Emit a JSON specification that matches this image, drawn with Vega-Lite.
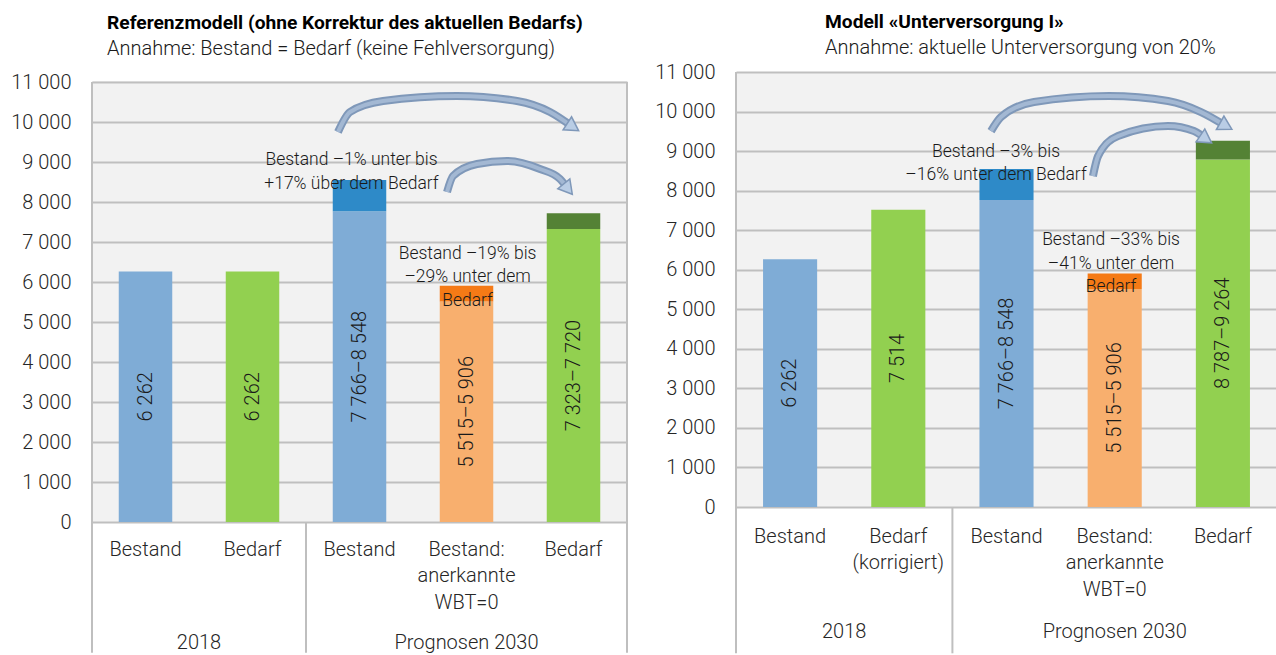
{
  "$schema": "https://vega.github.io/schema/vega-lite/v6.json",
  "padding": {"left": 10, "top": 12, "right": 0, "bottom": 0},
  "spacing": 26,
  "config": {
    "font": "Roboto",
    "view": {"fill": "#F2F2F2", "stroke": null},
    "title": {"anchor": "start", "frame": "group", "fontSize": 19.2, "fontWeight": "bold", "color": "#000000", "subtitleFontSize": 20, "subtitleFontWeight": 300, "subtitleColor": "#1a1a1a", "subtitlePadding": 6},
    "axis": {"labelFont": "Roboto", "labelFontSize": 20, "labelFontWeight": 300, "labelColor": "#262626", "ticks": false, "domain": false, "gridColor": "#BFBFBF", "gridWidth": 2},
    "axisY": {"grid": true, "labelOverlap": false}
  },
  "datasets": {
    "links_balken": [
      {"kat": "1|Bestand", "teil": "basis", "von": 0, "bis": 6262, "farbe": "Bestand", "text": "6 262"},
      {"kat": "2|Bedarf", "teil": "basis", "von": 0, "bis": 6262, "farbe": "Bedarf", "text": "6 262"},
      {"kat": "3|Bestand", "teil": "basis", "von": 0, "bis": 7766, "farbe": "Bestand", "text": "7 766–8 548"},
      {"kat": "3|Bestand", "teil": "spanne", "von": 7766, "bis": 8548, "farbe": "Bestand (Spanne)", "text": ""},
      {"kat": "4|Bestand:\nanerkannte\nWBT=0", "teil": "basis", "von": 0, "bis": 5515, "farbe": "WBT=0", "text": "5 515–5 906"},
      {"kat": "4|Bestand:\nanerkannte\nWBT=0", "teil": "spanne", "von": 5515, "bis": 5906, "farbe": "WBT=0 (Spanne)", "text": ""},
      {"kat": "5|Bedarf", "teil": "basis", "von": 0, "bis": 7323, "farbe": "Bedarf", "text": "7 323–7 720"},
      {"kat": "5|Bedarf", "teil": "spanne", "von": 7323, "bis": 7720, "farbe": "Bedarf (Spanne)", "text": ""}
    ],
    "rechts_balken": [
      {"kat": "1|Bestand", "teil": "basis", "von": 0, "bis": 6262, "farbe": "Bestand", "text": "6 262"},
      {"kat": "2|Bedarf\n(korrigiert)", "teil": "basis", "von": 0, "bis": 7514, "farbe": "Bedarf", "text": "7 514"},
      {"kat": "3|Bestand", "teil": "basis", "von": 0, "bis": 7766, "farbe": "Bestand", "text": "7 766–8 548"},
      {"kat": "3|Bestand", "teil": "spanne", "von": 7766, "bis": 8548, "farbe": "Bestand (Spanne)", "text": ""},
      {"kat": "4|Bestand:\nanerkannte\nWBT=0", "teil": "basis", "von": 0, "bis": 5515, "farbe": "WBT=0", "text": "5 515–5 906"},
      {"kat": "4|Bestand:\nanerkannte\nWBT=0", "teil": "spanne", "von": 5515, "bis": 5906, "farbe": "WBT=0 (Spanne)", "text": ""},
      {"kat": "5|Bedarf", "teil": "basis", "von": 0, "bis": 8787, "farbe": "Bedarf", "text": "8 787–9 264"},
      {"kat": "5|Bedarf", "teil": "spanne", "von": 8787, "bis": 9264, "farbe": "Bedarf (Spanne)", "text": ""}
    ],
    "links_notizen": [
      {"x": 2.425, "y": 9050, "text": "Bestand –1% unter bis\n+17% über dem Bedarf"},
      {"x": 3.51, "y": 6712, "text": "Bestand –19% bis\n–29% unter dem\nBedarf"}
    ],
    "rechts_notizen": [
      {"x": 2.403, "y": 8987, "text": "Bestand –3% bis\n–16% unter dem Bedarf"},
      {"x": 3.466, "y": 6747, "text": "Bestand –33% bis\n–41% unter dem\nBedarf"}
    ],
    "links_pfeile": [
      {"pfeil": "1", "x": 2.299, "y": 9750},
      {"pfeil": "1", "x": 2.411, "y": 10250},
      {"pfeil": "1", "x": 2.72, "y": 10525},
      {"pfeil": "1", "x": 3.411, "y": 10650},
      {"pfeil": "1", "x": 3.972, "y": 10525},
      {"pfeil": "1", "x": 4.28, "y": 10250},
      {"pfeil": "1", "x": 4.495, "y": 9875},
      {"pfeil": "2", "x": 3.318, "y": 8250},
      {"pfeil": "2", "x": 3.374, "y": 8650},
      {"pfeil": "2", "x": 3.598, "y": 8950},
      {"pfeil": "2", "x": 3.879, "y": 9025},
      {"pfeil": "2", "x": 4.187, "y": 8825},
      {"pfeil": "2", "x": 4.374, "y": 8575},
      {"pfeil": "2", "x": 4.449, "y": 8325}
    ],
    "rechts_pfeile": [
      {"pfeil": "1", "x": 2.357, "y": 9506},
      {"pfeil": "1", "x": 2.449, "y": 9861},
      {"pfeil": "1", "x": 2.754, "y": 10241},
      {"pfeil": "1", "x": 3.447, "y": 10392},
      {"pfeil": "1", "x": 3.993, "y": 10266},
      {"pfeil": "1", "x": 4.298, "y": 9987},
      {"pfeil": "1", "x": 4.529, "y": 9633},
      {"pfeil": "2", "x": 3.299, "y": 8367},
      {"pfeil": "2", "x": 3.346, "y": 8873},
      {"pfeil": "2", "x": 3.53, "y": 9380},
      {"pfeil": "2", "x": 3.993, "y": 9633},
      {"pfeil": "2", "x": 4.233, "y": 9506},
      {"pfeil": "2", "x": 4.344, "y": 9304}
    ],
    "links_spitzen": [
      {"pfeil": "1", "x": 4.495, "y": 9875},
      {"pfeil": "2", "x": 4.449, "y": 8325}
    ],
    "rechts_spitzen": [
      {"pfeil": "1", "x": 4.529, "y": 9633},
      {"pfeil": "2", "x": 4.344, "y": 9304}
    ],
    "links_maske": [
      {"x": 0, "x2": 5, "y": 11025, "y2": 11250}
    ],
    "links_linien": [
      {"x": 0, "y1": 11000, "y2": -3270},
      {"x": 2, "y1": 0, "y2": -3270},
      {"x": 5, "y1": 11000, "y2": -3270}
    ],
    "rechts_linien": [
      {"x": 0, "y1": 11000, "y2": -3700},
      {"x": 2, "y1": 0, "y2": -3700}
    ],
    "links_gruppen": [
      {"x": 1, "y": -3025, "text": "2018"},
      {"x": 3.5, "y": -3025, "text": "Prognosen 2030"}
    ],
    "rechts_gruppen": [
      {"x": 1, "y": -3152, "text": "2018"},
      {"x": 3.5, "y": -3152, "text": "Prognosen 2030"}
    ]
  },
  "hconcat": [
    {
      "width": 535,
      "height": 450,
      "title": {"text": "Referenzmodell (ohne Korrektur des aktuellen Bedarfs)", "subtitle": "Annahme: Bestand = Bedarf (keine Fehlversorgung)", "dx": 15, "offset": 13},
      "resolve": {"scale": {"x": "independent"}},
      "layer": [
        {
          "layer": [
            {
              "data": {"name": "links_balken"},
              "mark": {"type": "bar"},
              "encoding": {
                "x": {"field": "kat", "type": "nominal", "title": null, "scale": {"paddingInner": 0.5, "paddingOuter": 0.25},
                      "axis": {"labelExpr": "split(split(datum.label, '|')[1], '\\n')", "labelAngle": 0, "labelPadding": 17, "labelLineHeight": 26.5, "labelBaseline": "top", "labelOverlap": false, "grid": false}},
                "y": {"field": "von", "type": "quantitative", "title": null, "scale": {"domain": [0, 11250], "nice": false},
                      "axis": {"values": [0, 1000, 2000, 3000, 4000, 5000, 6000, 7000, 8000, 9000, 10000, 11000], "labelExpr": "replace(format(datum.value, ','), ',', ' ')", "labelPadding": 21, "labelOverlap": false, "grid": true}},
                "y2": {"field": "bis"},
                "color": {"field": "farbe", "type": "nominal", "legend": null,
                          "scale": {"domain": ["Bestand", "Bestand (Spanne)", "Bedarf", "Bedarf (Spanne)", "WBT=0", "WBT=0 (Spanne)"], "range": ["#7FACD6", "#2E8AC8", "#92D050", "#548235", "#F8AF6E", "#F57A16"]}}
              }
            },
            {
              "data": {"name": "links_balken"},
              "transform": [{"filter": "datum.teil == 'basis'"}, {"calculate": "datum.bis / 2", "as": "mitte"}],
              "mark": {"type": "text", "angle": 270, "fontSize": 20, "fontWeight": 300, "color": "#1a1a1a", "align": "center", "baseline": "middle"},
              "encoding": {
                "x": {"field": "kat", "type": "nominal", "title": null,
                      "axis": {"labelExpr": "split(split(datum.label, '|')[1], '\\n')", "labelAngle": 0, "labelPadding": 17, "labelLineHeight": 26.5, "labelBaseline": "top", "labelOverlap": false, "grid": false}},
                "y": {"field": "mitte", "type": "quantitative", "title": null, "scale": {"domain": [0, 11250], "nice": false},
                      "axis": {"values": [0, 1000, 2000, 3000, 4000, 5000, 6000, 7000, 8000, 9000, 10000, 11000], "labelExpr": "replace(format(datum.value, ','), ',', ' ')", "labelPadding": 21, "labelOverlap": false, "grid": true}},
                "text": {"field": "text"}
              }
            }
          ]
        },
        {
          "layer": [
            {
              "data": {"name": "links_maske"},
              "mark": {"type": "rect", "color": "#FFFFFF"},
              "encoding": {
                "x": {"field": "x", "type": "quantitative", "scale": {"domain": [0, 5], "nice": false, "zero": false}, "axis": null},
                "x2": {"field": "x2"},
                "y": {"field": "y", "type": "quantitative", "title": null, "scale": {"domain": [0, 11250], "nice": false},
                      "axis": {"values": [0, 1000, 2000, 3000, 4000, 5000, 6000, 7000, 8000, 9000, 10000, 11000], "labelExpr": "replace(format(datum.value, ','), ',', ' ')", "labelPadding": 21, "labelOverlap": false, "grid": true}},
                "y2": {"field": "y2"}
              }
            },
            {
              "data": {"name": "links_notizen"},
              "mark": {"type": "text", "fontSize": 17.5, "fontWeight": 300, "color": "#1a1a1a", "align": "center", "baseline": "middle", "lineBreak": "\n", "lineHeight": 23.5},
              "encoding": {
                "x": {"field": "x", "type": "quantitative", "scale": {"domain": [0, 5], "nice": false, "zero": false}, "axis": null},
                "y": {"field": "y", "type": "quantitative", "title": null, "scale": {"domain": [0, 11250], "nice": false},
                      "axis": {"values": [0, 1000, 2000, 3000, 4000, 5000, 6000, 7000, 8000, 9000, 10000, 11000], "labelExpr": "replace(format(datum.value, ','), ',', ' ')", "labelPadding": 21, "labelOverlap": false, "grid": true}},
                "text": {"field": "text"}
              }
            },
            {
              "data": {"name": "links_pfeile"},
              "mark": {"type": "line", "interpolate": "monotone", "strokeWidth": 8, "color": "#7F98B9", "strokeCap": "butt"},
              "encoding": {
                "x": {"field": "x", "type": "quantitative", "scale": {"domain": [0, 5], "nice": false, "zero": false}, "axis": null},
                "y": {"field": "y", "type": "quantitative", "title": null, "scale": {"domain": [0, 11250], "nice": false},
                      "axis": {"values": [0, 1000, 2000, 3000, 4000, 5000, 6000, 7000, 8000, 9000, 10000, 11000], "labelExpr": "replace(format(datum.value, ','), ',', ' ')", "labelPadding": 21, "labelOverlap": false, "grid": true}},
                "detail": {"field": "pfeil"}
              }
            },
            {
              "data": {"name": "links_pfeile"},
              "mark": {"type": "line", "interpolate": "monotone", "strokeWidth": 4, "color": "#A3B8D3", "strokeCap": "butt"},
              "encoding": {
                "x": {"field": "x", "type": "quantitative", "scale": {"domain": [0, 5], "nice": false, "zero": false}, "axis": null},
                "y": {"field": "y", "type": "quantitative", "title": null, "scale": {"domain": [0, 11250], "nice": false},
                      "axis": {"values": [0, 1000, 2000, 3000, 4000, 5000, 6000, 7000, 8000, 9000, 10000, 11000], "labelExpr": "replace(format(datum.value, ','), ',', ' ')", "labelPadding": 21, "labelOverlap": false, "grid": true}},
                "detail": {"field": "pfeil"}
              }
            },
            {
              "data": {"name": "links_spitzen"},
              "transform": [{"filter": "datum.pfeil == '1'"}],
              "mark": {"type": "point", "shape": "triangle-up", "angle": 123, "size": 240, "filled": true, "fill": "#B9CDE5", "stroke": "#7F98B9", "strokeWidth": 1.5, "opacity": 1},
              "encoding": {
                "x": {"field": "x", "type": "quantitative", "scale": {"domain": [0, 5], "nice": false, "zero": false}, "axis": null},
                "y": {"field": "y", "type": "quantitative", "title": null, "scale": {"domain": [0, 11250], "nice": false},
                      "axis": {"values": [0, 1000, 2000, 3000, 4000, 5000, 6000, 7000, 8000, 9000, 10000, 11000], "labelExpr": "replace(format(datum.value, ','), ',', ' ')", "labelPadding": 21, "labelOverlap": false, "grid": true}}
              }
            },
            {
              "data": {"name": "links_spitzen"},
              "transform": [{"filter": "datum.pfeil == '2'"}],
              "mark": {"type": "point", "shape": "triangle-up", "angle": 141, "size": 240, "filled": true, "fill": "#B9CDE5", "stroke": "#7F98B9", "strokeWidth": 1.5, "opacity": 1},
              "encoding": {
                "x": {"field": "x", "type": "quantitative", "scale": {"domain": [0, 5], "nice": false, "zero": false}, "axis": null},
                "y": {"field": "y", "type": "quantitative", "title": null, "scale": {"domain": [0, 11250], "nice": false},
                      "axis": {"values": [0, 1000, 2000, 3000, 4000, 5000, 6000, 7000, 8000, 9000, 10000, 11000], "labelExpr": "replace(format(datum.value, ','), ',', ' ')", "labelPadding": 21, "labelOverlap": false, "grid": true}}
              }
            },
            {
              "data": {"name": "links_linien"},
              "mark": {"type": "rule", "color": "#BFBFBF", "strokeWidth": 2},
              "encoding": {
                "x": {"field": "x", "type": "quantitative", "scale": {"domain": [0, 5], "nice": false, "zero": false}, "axis": null},
                "y": {"field": "y1", "type": "quantitative", "title": null, "scale": {"domain": [0, 11250], "nice": false},
                      "axis": {"values": [0, 1000, 2000, 3000, 4000, 5000, 6000, 7000, 8000, 9000, 10000, 11000], "labelExpr": "replace(format(datum.value, ','), ',', ' ')", "labelPadding": 21, "labelOverlap": false, "grid": true}},
                "y2": {"field": "y2"}
              }
            },
            {
              "data": {"name": "links_gruppen"},
              "mark": {"type": "text", "fontSize": 20, "fontWeight": 300, "color": "#262626", "align": "center", "baseline": "middle"},
              "encoding": {
                "x": {"field": "x", "type": "quantitative", "scale": {"domain": [0, 5], "nice": false, "zero": false}, "axis": null},
                "y": {"field": "y", "type": "quantitative", "title": null, "scale": {"domain": [0, 11250], "nice": false},
                      "axis": {"values": [0, 1000, 2000, 3000, 4000, 5000, 6000, 7000, 8000, 9000, 10000, 11000], "labelExpr": "replace(format(datum.value, ','), ',', ' ')", "labelPadding": 21, "labelOverlap": false, "grid": true}},
                "text": {"field": "text"}
              }
            }
          ]
        }
      ]
    },
    {
      "width": 541,
      "height": 435,
      "title": {"text": "Modell «Unterversorgung I»", "subtitle": "Annahme: aktuelle Unterversorgung von 20%", "dx": 89, "offset": 4},
      "resolve": {"scale": {"x": "independent"}},
      "layer": [
        {
          "layer": [
            {
              "data": {"name": "rechts_balken"},
              "mark": {"type": "bar"},
              "encoding": {
                "x": {"field": "kat", "type": "nominal", "title": null, "scale": {"paddingInner": 0.5, "paddingOuter": 0.25},
                      "axis": {"labelExpr": "split(split(datum.label, '|')[1], '\\n')", "labelAngle": 0, "labelPadding": 19, "labelLineHeight": 26.5, "labelBaseline": "top", "labelOverlap": false, "grid": false}},
                "y": {"field": "von", "type": "quantitative", "title": null, "scale": {"domain": [0, 11000], "nice": false},
                      "axis": {"values": [0, 1000, 2000, 3000, 4000, 5000, 6000, 7000, 8000, 9000, 10000, 11000], "labelExpr": "replace(format(datum.value, ','), ',', ' ')", "labelPadding": 21, "labelOverlap": false, "grid": true}},
                "y2": {"field": "bis"},
                "color": {"field": "farbe", "type": "nominal", "legend": null,
                          "scale": {"domain": ["Bestand", "Bestand (Spanne)", "Bedarf", "Bedarf (Spanne)", "WBT=0", "WBT=0 (Spanne)"], "range": ["#7FACD6", "#2E8AC8", "#92D050", "#548235", "#F8AF6E", "#F57A16"]}}
              }
            },
            {
              "data": {"name": "rechts_balken"},
              "transform": [{"filter": "datum.teil == 'basis'"}, {"calculate": "datum.bis / 2", "as": "mitte"}],
              "mark": {"type": "text", "angle": 270, "fontSize": 20, "fontWeight": 300, "color": "#1a1a1a", "align": "center", "baseline": "middle"},
              "encoding": {
                "x": {"field": "kat", "type": "nominal", "title": null,
                      "axis": {"labelExpr": "split(split(datum.label, '|')[1], '\\n')", "labelAngle": 0, "labelPadding": 19, "labelLineHeight": 26.5, "labelBaseline": "top", "labelOverlap": false, "grid": false}},
                "y": {"field": "mitte", "type": "quantitative", "title": null, "scale": {"domain": [0, 11000], "nice": false},
                      "axis": {"values": [0, 1000, 2000, 3000, 4000, 5000, 6000, 7000, 8000, 9000, 10000, 11000], "labelExpr": "replace(format(datum.value, ','), ',', ' ')", "labelPadding": 21, "labelOverlap": false, "grid": true}},
                "text": {"field": "text"}
              }
            }
          ]
        },
        {
          "layer": [
            {
              "data": {"name": "rechts_notizen"},
              "mark": {"type": "text", "fontSize": 17.5, "fontWeight": 300, "color": "#1a1a1a", "align": "center", "baseline": "middle", "lineBreak": "\n", "lineHeight": 23.5},
              "encoding": {
                "x": {"field": "x", "type": "quantitative", "scale": {"domain": [0, 5], "nice": false, "zero": false}, "axis": null},
                "y": {"field": "y", "type": "quantitative", "title": null, "scale": {"domain": [0, 11000], "nice": false},
                      "axis": {"values": [0, 1000, 2000, 3000, 4000, 5000, 6000, 7000, 8000, 9000, 10000, 11000], "labelExpr": "replace(format(datum.value, ','), ',', ' ')", "labelPadding": 21, "labelOverlap": false, "grid": true}},
                "text": {"field": "text"}
              }
            },
            {
              "data": {"name": "rechts_pfeile"},
              "mark": {"type": "line", "interpolate": "monotone", "strokeWidth": 8, "color": "#7F98B9", "strokeCap": "butt"},
              "encoding": {
                "x": {"field": "x", "type": "quantitative", "scale": {"domain": [0, 5], "nice": false, "zero": false}, "axis": null},
                "y": {"field": "y", "type": "quantitative", "title": null, "scale": {"domain": [0, 11000], "nice": false},
                      "axis": {"values": [0, 1000, 2000, 3000, 4000, 5000, 6000, 7000, 8000, 9000, 10000, 11000], "labelExpr": "replace(format(datum.value, ','), ',', ' ')", "labelPadding": 21, "labelOverlap": false, "grid": true}},
                "detail": {"field": "pfeil"}
              }
            },
            {
              "data": {"name": "rechts_pfeile"},
              "mark": {"type": "line", "interpolate": "monotone", "strokeWidth": 4, "color": "#A3B8D3", "strokeCap": "butt"},
              "encoding": {
                "x": {"field": "x", "type": "quantitative", "scale": {"domain": [0, 5], "nice": false, "zero": false}, "axis": null},
                "y": {"field": "y", "type": "quantitative", "title": null, "scale": {"domain": [0, 11000], "nice": false},
                      "axis": {"values": [0, 1000, 2000, 3000, 4000, 5000, 6000, 7000, 8000, 9000, 10000, 11000], "labelExpr": "replace(format(datum.value, ','), ',', ' ')", "labelPadding": 21, "labelOverlap": false, "grid": true}},
                "detail": {"field": "pfeil"}
              }
            },
            {
              "data": {"name": "rechts_spitzen"},
              "transform": [{"filter": "datum.pfeil == '1'"}],
              "mark": {"type": "point", "shape": "triangle-up", "angle": 119, "size": 240, "filled": true, "fill": "#B9CDE5", "stroke": "#7F98B9", "strokeWidth": 1.5, "opacity": 1},
              "encoding": {
                "x": {"field": "x", "type": "quantitative", "scale": {"domain": [0, 5], "nice": false, "zero": false}, "axis": null},
                "y": {"field": "y", "type": "quantitative", "title": null, "scale": {"domain": [0, 11000], "nice": false},
                      "axis": {"values": [0, 1000, 2000, 3000, 4000, 5000, 6000, 7000, 8000, 9000, 10000, 11000], "labelExpr": "replace(format(datum.value, ','), ',', ' ')", "labelPadding": 21, "labelOverlap": false, "grid": true}}
              }
            },
            {
              "data": {"name": "rechts_spitzen"},
              "transform": [{"filter": "datum.pfeil == '2'"}],
              "mark": {"type": "point", "shape": "triangle-up", "angle": 124, "size": 240, "filled": true, "fill": "#B9CDE5", "stroke": "#7F98B9", "strokeWidth": 1.5, "opacity": 1},
              "encoding": {
                "x": {"field": "x", "type": "quantitative", "scale": {"domain": [0, 5], "nice": false, "zero": false}, "axis": null},
                "y": {"field": "y", "type": "quantitative", "title": null, "scale": {"domain": [0, 11000], "nice": false},
                      "axis": {"values": [0, 1000, 2000, 3000, 4000, 5000, 6000, 7000, 8000, 9000, 10000, 11000], "labelExpr": "replace(format(datum.value, ','), ',', ' ')", "labelPadding": 21, "labelOverlap": false, "grid": true}}
              }
            },
            {
              "data": {"name": "rechts_linien"},
              "mark": {"type": "rule", "color": "#BFBFBF", "strokeWidth": 2},
              "encoding": {
                "x": {"field": "x", "type": "quantitative", "scale": {"domain": [0, 5], "nice": false, "zero": false}, "axis": null},
                "y": {"field": "y1", "type": "quantitative", "title": null, "scale": {"domain": [0, 11000], "nice": false},
                      "axis": {"values": [0, 1000, 2000, 3000, 4000, 5000, 6000, 7000, 8000, 9000, 10000, 11000], "labelExpr": "replace(format(datum.value, ','), ',', ' ')", "labelPadding": 21, "labelOverlap": false, "grid": true}},
                "y2": {"field": "y2"}
              }
            },
            {
              "data": {"name": "rechts_gruppen"},
              "mark": {"type": "text", "fontSize": 20, "fontWeight": 300, "color": "#262626", "align": "center", "baseline": "middle"},
              "encoding": {
                "x": {"field": "x", "type": "quantitative", "scale": {"domain": [0, 5], "nice": false, "zero": false}, "axis": null},
                "y": {"field": "y", "type": "quantitative", "title": null, "scale": {"domain": [0, 11000], "nice": false},
                      "axis": {"values": [0, 1000, 2000, 3000, 4000, 5000, 6000, 7000, 8000, 9000, 10000, 11000], "labelExpr": "replace(format(datum.value, ','), ',', ' ')", "labelPadding": 21, "labelOverlap": false, "grid": true}},
                "text": {"field": "text"}
              }
            }
          ]
        }
      ]
    }
  ]
}
